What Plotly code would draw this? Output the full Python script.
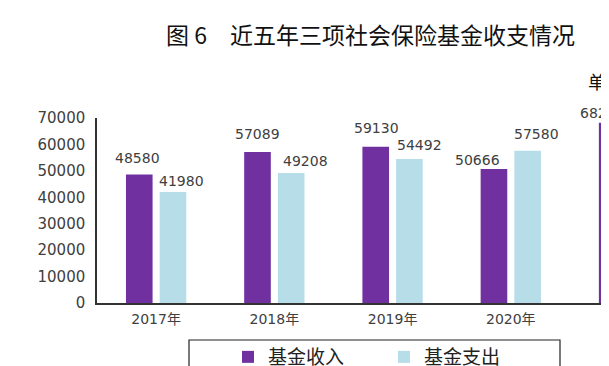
import plotly.graph_objects as go

years = ["2017年", "2018年", "2019年", "2020年", "2021年"]
income = [48580, 57089, 59130, 50666, 68205]
expense = [41980, 49208, 54492, 57580, 62888]
income_name = "基金收入"
expense_name = "基金支出"
title_text = "图 6　近五年三项社会保险基金收支情况"
unit_text = "单位：亿元"

# label placement styles (pixels)
income_label_dy = [17, 18, 19, 9, 10]
income_label_dx = [-2, 0, 1, -16, -10]
expense_label_dy = [11, 12, 14, 17, 12]
expense_label_dx = [9, 14, 10, 9, 9]

PURPLE = "#7030A0"
LIGHTBLUE = "#B7DDE8"
TXT = "#404040"
NUMFONT = "DejaVu Sans, Noto Sans CJK SC"
CJKFONT = "Noto Sans CJK SC"

# page body has an 8px default margin: work in screen pixels, convert to figure pixels
OFF = 8
W, H = 609, 366
S_LEFT, S_TOP, S_BOTTOM, S_RIGHT = 97, 118, 303, W + OFF
L = S_LEFT - OFF
T = S_TOP - OFF
B = H - (S_BOTTOM - OFF)
plot_w = S_RIGHT - S_LEFT
plot_h = S_BOTTOM - S_TOP


def px(xs):
    return (xs - S_LEFT) / plot_w


def py(ys):
    return (S_BOTTOM - ys) / plot_h


BARGAP, GROUPGAP = 0.43, 0.21
half_slot = (1 - BARGAP) / 4  # centre offset of each bar within its category

fig = go.Figure()
fig.add_trace(go.Bar(x=years, y=income, name=income_name, marker_color=PURPLE,
                     marker_line_width=0))
fig.add_trace(go.Bar(x=years, y=expense, name=expense_name, marker_color=LIGHTBLUE,
                     marker_line_width=0))

cat_w = 118.0
first_center = 157.0
for i in range(len(years)):
    fig.add_annotation(x=i - half_slot, y=income[i], xref="x", yref="y", text=str(income[i]),
                       showarrow=False, xshift=income_label_dx[i],
                       yshift=income_label_dy[i], yanchor="middle",
                       font=dict(family=NUMFONT, size=14, color=TXT))
    fig.add_annotation(x=i + half_slot, y=expense[i], xref="x", yref="y", text=str(expense[i]),
                       showarrow=False, xshift=expense_label_dx[i],
                       yshift=expense_label_dy[i], yanchor="middle",
                       font=dict(family=NUMFONT, size=14, color=TXT))

# title
fig.add_annotation(x=px(370), y=py(34), xref="paper", yref="paper",
                   text=title_text, showarrow=False, xanchor="center", yanchor="middle",
                   font=dict(family=CJKFONT, size=23, color="#111111"))
# unit
fig.add_annotation(x=px(586), y=py(81), xref="paper", yref="paper",
                   text=unit_text, showarrow=False, xanchor="left", yanchor="middle",
                   font=dict(family=CJKFONT, size=18, color="#111111"))

# legend frame
fig.add_shape(type="rect", xref="paper", yref="paper",
              x0=px(189), x1=px(560), y0=py(400), y1=py(340),
              line=dict(color="#222222", width=1.2), fillcolor="rgba(0,0,0,0)")

fig.update_layout(
    width=W, height=H,
    margin=dict(l=L, r=0, t=T, b=B, pad=0, autoexpand=False),
    paper_bgcolor="white", plot_bgcolor="white",
    barmode="group", bargap=BARGAP, bargroupgap=GROUPGAP,
    showlegend=True,
    legend=dict(orientation="h", xref="container", yref="container",
                x=(228 - OFF) / W, xanchor="left",
                y=1 - (357 - OFF) / H, yanchor="middle",
                font=dict(family=CJKFONT, size=19, color="#222222"),
                entrywidth=111, entrywidthmode="pixels",
                bgcolor="rgba(0,0,0,0)", borderwidth=0),
    xaxis=dict(range=[-0.5, (S_RIGHT - first_center) / cat_w], showgrid=False, showline=True,
               linecolor="#333333", linewidth=1.5, ticks="", ticklabelstandoff=2,
               tickfont=dict(family=NUMFONT, size=14, color=TXT), fixedrange=True),
    yaxis=dict(range=[0, 70000], dtick=10000, showgrid=False, showline=True,
               linecolor="#333333", linewidth=1.5, ticks="", ticklabelstandoff=7,
               tickformat="d", zeroline=False,
               tickfont=dict(family=NUMFONT, size=15, color=TXT), fixedrange=True),
)

fig.write_html("out.html")
